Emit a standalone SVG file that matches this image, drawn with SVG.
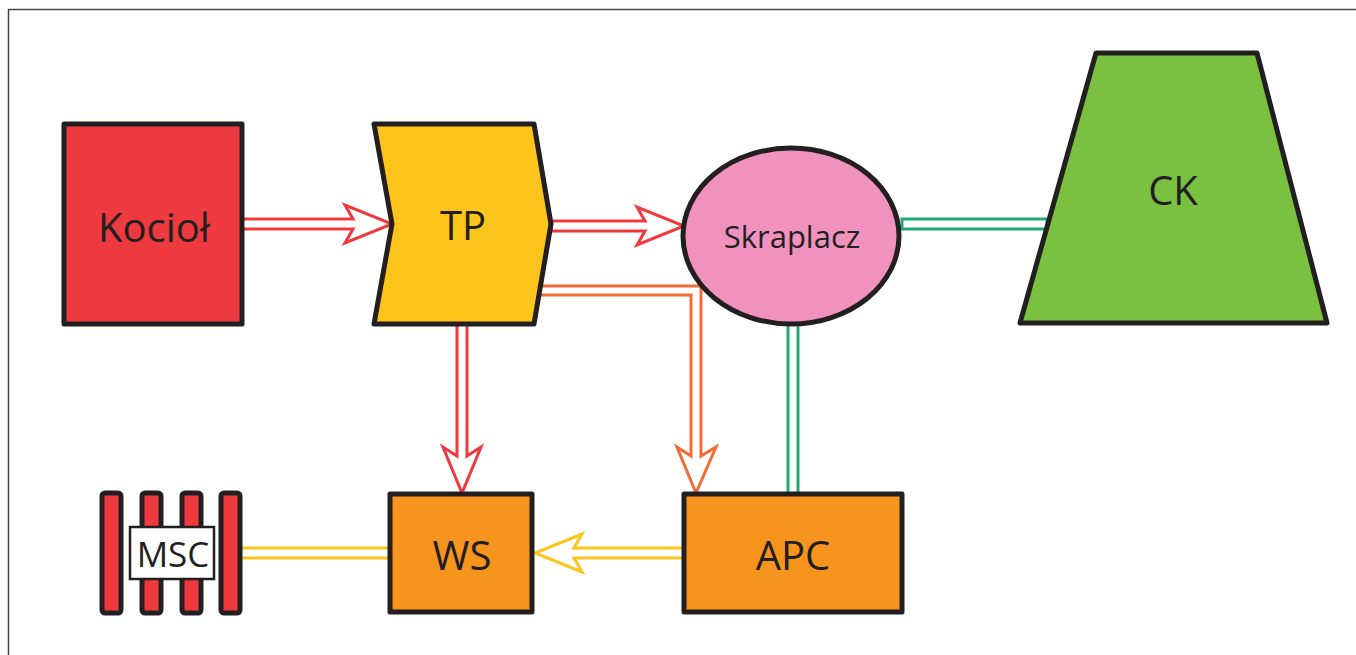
<svg xmlns="http://www.w3.org/2000/svg" width="1356" height="655" viewBox="0 0 1356 655">
<style>
.node{stroke:#231F20;stroke-width:5;stroke-linejoin:round}
.lbl{font-family:"Open Sans","Noto Sans","Liberation Sans",sans-serif;fill:#231F20;text-anchor:middle;dominant-baseline:central}
.big{font-size:40px}
.conn{fill:#fff;stroke-width:3;stroke-linejoin:miter}
.red{stroke:#EE3A3E}
.org{stroke:#F26B36}
.grn{stroke:#22A870}
.yel{stroke:#FDC41B}
.bar{fill:#EE3A3E;stroke:#231F20;stroke-width:5}
</style>
<rect width="1356" height="655" fill="#fff"/>
<path d="M8.5,655 V9.5 H1356" fill="none" stroke="#444" stroke-width="1.5"/>
<g id="connectors">
<path class="conn red" d="M242,219 H353 L345,205 L392,224 L345,243 L353,229 H242 Z"/>
<path class="conn red" d="M551,221 H645 L637,207 L684,226 L637,245 L645,231 H551 Z"/>
<path class="conn red" d="M457,323 V456 L443,447 L462,493 L481,447 L467,456 V323 Z"/>
<path class="conn org" d="M539,286 H701 V456 L716,447 L696,493 L677,447 L691,456 V295 H539 Z"/>
<rect class="conn grn" x="788" y="324" width="10" height="170"/>
<rect class="conn grn" x="902" y="219" width="145" height="10"/>
<rect class="conn yel" x="240" y="548" width="151" height="10"/>
<path class="conn yel" d="M684,548 H574 L582,534 L535,553 L582,572 L574,558 H684 Z"/>
</g>
<g id="kociol">
<rect class="node" x="64" y="124" width="178" height="200" fill="#EE3A3E"/>
<text class="lbl big" x="154" y="226">Kocioł</text>
</g>
<g id="tp">
<polygon class="node" points="374,124 534,124 551,224 534,324 374,324 392,224" fill="#FDC41B"/>
<text class="lbl big" x="463" y="224">TP</text>
</g>
<g id="skraplacz">
<ellipse class="node" cx="791" cy="236" rx="108" ry="88" fill="#F192BE"/>
<text class="lbl" font-size="31" x="792" y="236">Skraplacz</text>
</g>
<g id="ck">
<polygon class="node" points="1096,53 1257,53 1327,323 1020,323" fill="#7AC142"/>
<text class="lbl big" x="1173" y="189">CK</text>
</g>
<g id="msc">
<rect class="bar" x="102" y="493" width="19" height="120" rx="3"/>
<rect class="bar" x="142" y="493" width="19" height="120" rx="3"/>
<rect class="bar" x="182" y="493" width="19" height="120" rx="3"/>
<rect class="bar" x="221" y="493" width="19" height="120" rx="3"/>
<rect x="130" y="527" width="84" height="52" fill="#fff" stroke="#231F20" stroke-width="2.5"/>
<text class="lbl" font-size="35" x="173" y="553">MSC</text>
</g>
<g id="ws">
<rect class="node" x="390" y="494" width="142" height="118" fill="#F7941E"/>
<text class="lbl big" x="462" y="554">WS</text>
</g>
<g id="apc">
<rect class="node" x="684" y="494" width="218" height="118" fill="#F7941E"/>
<text class="lbl big" x="793" y="554">APC</text>
</g>
</svg>
